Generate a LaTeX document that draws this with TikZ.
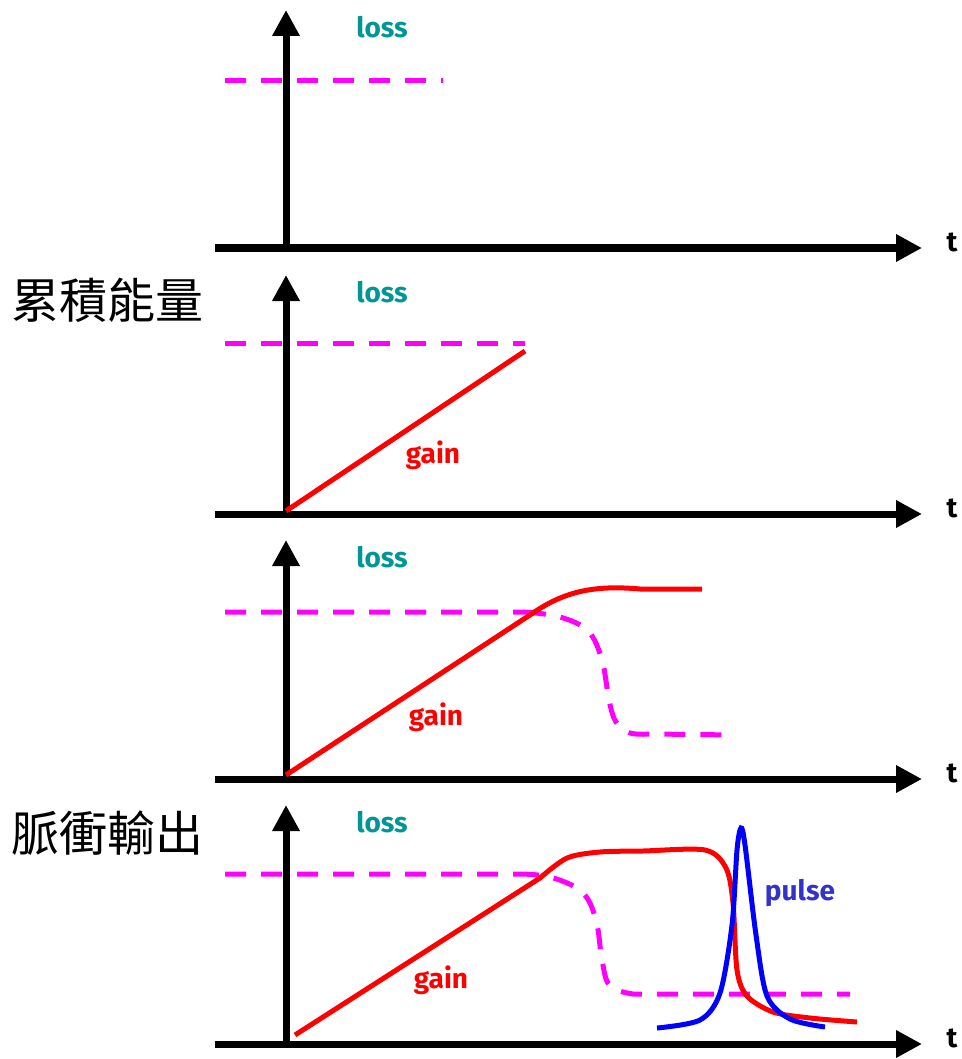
\documentclass[tikz,border=0pt]{standalone}
\usepackage{fontspec}
\setmainfont{Fira Sans}
\newfontfamily\cjk{Noto Sans CJK TC}
\usetikzlibrary{arrows.meta}
\definecolor{losscol}{RGB}{0,150,150}
\definecolor{magentacol}{RGB}{255,0,255}
\definecolor{pulsecol}{RGB}{51,51,204}
\tikzset{
  axis/.style={line width=7pt,-{Triangle[length=26pt,width=26pt]}},
  losstxt/.style={text=losscol,font=\fontsize{28}{30}\selectfont\bfseries,inner sep=0pt},
  gaintxt/.style={text=red,font=\fontsize{28}{30}\selectfont\bfseries,inner sep=0pt},
  pulsetxt/.style={text=pulsecol,font=\fontsize{28}{30}\selectfont\bfseries,inner sep=0pt},
  ttxt/.style={text=black,font=\fontsize{28}{30}\selectfont\bfseries,inner sep=0pt},
  cjktxt/.style={font=\fontsize{48}{50}\selectfont\cjk,inner sep=0pt},
  losscurve/.style={magentacol,line width=5pt,dash pattern=on 21pt off 15pt},
  gaincurve/.style={red,line width=5pt},
  pulsecurve/.style={blue,line width=5pt}
}
\begin{document}
\begin{tikzpicture}[x=1pt,y=-1pt]
\useasboundingbox (0,0) rectangle (961,1059);
% ---------- panel 1 ----------
\coordinate (o1) at (286,248);
\coordinate (x1a) at (215,248);
\coordinate (x1b) at (922,248);
\coordinate (y1b) at (286,10);
\draw[axis] (x1a) -- (x1b);
\draw[axis] (o1) -- (y1b);
\node[ttxt] (t1) at (952,242) {t};
\node[losstxt] (loss1) at (382,27) {loss};
\coordinate (l1a) at (225,81);
\coordinate (l1b) at (443,81);
\draw[losscurve] (l1a) -- (l1b);
% ---------- panel 2 ----------
\coordinate (o2) at (286,514);
\coordinate (x2a) at (215,514);
\coordinate (x2b) at (922,514);
\coordinate (y2b) at (286,275);
\draw[axis] (x2a) -- (x2b);
\draw[axis] (o2) -- (y2b);
\node[ttxt] (t2) at (952,508) {t};
\node[losstxt] (loss2) at (382,292) {loss};
\node[cjktxt] (lab1) at (107,300) {累積能量};
\coordinate (l2a) at (225,343);
\coordinate (l2b) at (525,343);
\draw[losscurve] (l2a) -- (l2b);
\coordinate (g2a) at (286,511);
\coordinate (g2b) at (525,351);
\draw[gaincurve] (g2a) -- (g2b);
\node[gaintxt] (gain2) at (433,455) {gain};
% ---------- panel 3 ----------
\coordinate (o3) at (286,779);
\coordinate (x3a) at (215,779);
\coordinate (x3b) at (922,779);
\coordinate (y3b) at (286,540);
\draw[axis] (x3a) -- (x3b);
\draw[axis] (o3) -- (y3b);
\node[ttxt] (t3) at (952,773) {t};
\node[losstxt] (loss3) at (382,557) {loss};
\draw[losscurve] (225,612) -- (525,612)
  plot[smooth,tension=0.6] coordinates {(525,612) (560,617) (588,631) (602,660) (609,700) (616,722) (630,733) (652,734)}
  -- (736,735);
\draw[gaincurve] (286,775) -- (533,613)
  .. controls (565,591) and (595,585) .. (640,589) -- (702,589);
\node[gaintxt] (gain3) at (436,717) {gain};
% ---------- panel 4 ----------
\coordinate (o4) at (286,1044);
\coordinate (x4a) at (215,1044);
\coordinate (x4b) at (922,1044);
\coordinate (y4b) at (286,805);
\draw[axis] (x4a) -- (x4b);
\draw[axis] (o4) -- (y4b);
\node[ttxt] (t4) at (952,1038) {t};
\node[losstxt] (loss4) at (382,822) {loss};
\node[cjktxt] (lab2) at (107,833) {脈衝輸出};
\draw[losscurve] (225,874) -- (518,874)
  plot[smooth,tension=0.6] coordinates {(518,874) (550,877) (582,892) (596,920) (602,960) (610,986) (633,994)}
  -- (850,994);
\draw[gaincurve] (295,1035) -- (540,878)
  plot[smooth,tension=0.5] coordinates {(540,878) (567,858) (600,852) (643,851) (705,850) (726,868) (733,903) (737,970) (747,996) (773,1012) (810,1018) (857,1022)};
\draw[pulsecurve] plot[smooth,tension=0.5] coordinates {(657,1028) (700,1020) (720,993) (732,925) (737,850) (741,828) (745,845) (756,935) (767,996) (790,1019) (825,1027)};
\node[pulsetxt] (pulse) at (800,893) {pulse};
\node[gaintxt] (gain4) at (441,980) {gain};
\end{tikzpicture}
\end{document}
